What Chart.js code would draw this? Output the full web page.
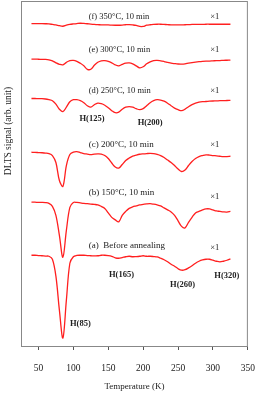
<!DOCTYPE html>
<html>
<head>
<meta charset="utf-8">
<script src="https://cdn.jsdelivr.net/npm/chart.js@4"></script>
<style>
  html, body { margin: 0; padding: 0; background: #fff; }
  #wrap { width: 268px; height: 393px; }
</style>
</head>
<body>
<div id="wrap"><canvas id="chart1"></canvas></div>
<script>
// temperature grid (K)
const temps = [40,45,50,55,60,65,70,75,80,85,90,95,100,105,110,115,120,125,130,135,140,145,150,155,160,165,170,175,180,185,
  190,195,200,205,210,215,220,225,230,235,240,245,250,255,260,265,270,275,280,285,290,295,300,305,310,315,320,325];

// DLTS signals, arb. unit, each relative to its own baseline
const sigA = [0.5,0.5,0.2,0,-0.3,-0.5,-3.5,-20.5,-54.5,-82.5,-44.5,-7.5,-1,0.3,0.5,0.5,0.2,0,-0.2,0,0.5,0.5,0.2,-0.5,-2,-2.5,-1.8,-1,-0.5,-1,
  -0.8,-0.5,0,-0.5,-0.5,-0.8,-1.2,-2.5,-4,-6,-8.5,-10.5,-13,-14.5,-14,-12.2,-10,-7.5,-5.5,-4.2,-3.5,-3.5,-4.5,-5.5,-6.2,-5.5,-4.5,-3.2];
const sigB = [0.3,0.2,0,0,-0.2,-1,-4,-13,-33,-55,-28,-5,0,0,-0.5,-1,-1.3,-1.7,-2,-2.5,-4,-6,-10.5,-15,-17.5,-19.5,-13,-9,-6,-4.5,
  -3.5,-2.5,-2,-1.5,-1.3,-1.8,-2.5,-3.5,-5.5,-7.5,-9.5,-13,-18.5,-24,-25.5,-20,-15,-10.5,-9,-7.5,-6.5,-6.5,-7.5,-8.5,-9,-9.5,-9.7,-9];
const sigC = [0.3,0.2,0,-0.2,-0.5,-1,-3,-10,-28,-34,-13,-2,0.5,1,0,-1,-1.5,-2,-1.5,-1.3,-1.5,-3,-6,-10.5,-14.5,-15.5,-12,-8,-5.5,-3.5,
  -2.5,-1.7,-1.3,-1,-0.8,-1,-1.8,-3,-5,-7.5,-10,-13,-16.5,-19,-17.5,-13,-9,-6,-4,-3,-2.3,-2.5,-3,-3.3,-3.7,-4,-4,-3.7];
const sigD = [0.7,0.7,0.5,0.5,0.2,-0.5,-1.5,-5,-10,-12.5,-8,-2.5,-0.5,-0.5,-1.5,-3.5,-6.5,-8,-5.5,-4,-4.5,-6,-8.5,-11.5,-13.5,-13,-10,-8,-7.5,-8,
  -9.5,-10.5,-9.5,-6.5,-3.5,-1.5,-0.5,-0.8,-2,-4,-6.5,-9,-10.5,-11.5,-10,-7.5,-5.5,-4,-3,-2.5,-2.3,-2,-1.8,-1.7,-1.5,-1.5,-1.3,-1.2];
const sigE = [0.2,0.2,0.1,0,-0.1,-0.5,-1.5,-3.5,-5,-5.5,-3,-1.3,-1,-2,-4,-6.5,-10,-10,-6,-3,-1.5,-1.3,-2,-3.5,-5.5,-6.5,-5,-3.8,-3.5,-4.5,
  -6.5,-8.5,-7.5,-4.5,-2.5,-1.2,-1,-1.5,-2.2,-3,-3.8,-4.3,-4.7,-4.8,-4.5,-3.8,-3.2,-2.7,-2.3,-2,-1.8,-1.7,-1.5,-1.3,-1.2,-1,-0.9,-0.8];
const sigF = [0.3,0.3,0.3,0.3,0.2,0,-0.5,-1,-1.8,-2.3,-1.3,-0.5,0,0.4,0.7,0.5,0.2,-0.2,-0.5,-0.7,-1,-1,-1,-1.2,-1.3,-1.3,-1.1,-0.8,-0.7,-1,
  -1.5,-2.5,-2.5,-1.3,-0.8,-0.5,-0.3,-0.3,-0.5,-0.7,-1,-1,-1,-1,-0.8,-0.7,-0.5,-0.5,-0.5,-0.5,-0.3,-0.3,-0.3,-0.3,-0.3,-0.3,-0.3,-0.3];

// vertical stacking offset of each curve (a..f)
const offsets = [90.5, 144, 194, 247.5, 287.5, 323];
const signals = [sigA, sigB, sigC, sigD, sigE, sigF];

const xTicks = [50, 100, 150, 200, 250, 300, 350];

// curve captions: text, T, y
const captions = [
  ["(a)  Before annealing", 122, 101],
  ["(b) 150\u00B0C, 10 min", 122, 154.3],
  ["(c) 200\u00B0C, 10 min", 122, 202],
  ["(d) 250\u00B0C, 10 min", 122, 256],
  ["(e) 300\u00B0C, 10 min", 122, 296.7],
  ["(f) 350\u00B0C, 10 min", 122, 330]
];
const captionSize = [9, 9, 9, 8.5, 8.5, 8.5];
const scaleMarks = [["\u00D71", 296, 98.7], ["\u00D71", 296, 149.3], ["\u00D71", 296, 202], ["\u00D71", 296, 256], ["\u00D71", 296, 297], ["\u00D71", 296, 330]];
const peakLabels = [
  ["H(85)", 110, 22.7],
  ["H(125)", 126.7, 228],
  ["H(165)", 169, 71],
  ["H(200)", 210, 224.3],
  ["H(260)", 256.5, 61.7],
  ["H(320)", 319.8, 70]
];

const SERIF = '"Liberation Serif", "DejaVu Serif", serif';

const datasets = signals.map(function (sig, k) {
  return {
    data: temps.map(function (t, i) { return { x: t, y: offsets[k] + sig[i] }; }),
    borderColor: '#ff1f1f',
    borderWidth: 1.3,
    pointRadius: 0,
    fill: false,
    tension: 0.35
  };
});

const textPlugin = {
  id: 'texts',
  afterDraw(chart) {
    const ctx = chart.ctx, xs = chart.scales.x, ys = chart.scales.y, a = chart.chartArea;
    ctx.save();
    // frame
    ctx.strokeStyle = '#888';
    ctx.lineWidth = 1;
    ctx.strokeRect(a.left + 0.5, a.top + 0.5, a.right - a.left - 1, a.bottom - a.top);
    ctx.fillStyle = '#222';
    ctx.textBaseline = 'middle';
    ctx.textAlign = 'left';
    captions.forEach(function (c, i) {
      ctx.font = captionSize[i] + 'px ' + SERIF;
      ctx.fillText(c[0], xs.getPixelForValue(c[1]), ys.getPixelForValue(c[2]));
    });
    ctx.font = '8.5px ' + SERIF;
    scaleMarks.forEach(function (c) {
      ctx.fillText(c[0], xs.getPixelForValue(c[1]), ys.getPixelForValue(c[2]));
    });
    ctx.textAlign = 'center';
    ctx.font = 'bold 8.5px ' + SERIF;
    peakLabels.forEach(function (c) {
      ctx.fillText(c[0], xs.getPixelForValue(c[1]), ys.getPixelForValue(c[2]));
    });
    // y title
    ctx.translate(8, 131);
    ctx.rotate(-Math.PI / 2);
    ctx.font = '9.5px ' + SERIF;
    ctx.fillStyle = '#222';
    ctx.fillText('DLTS signal (arb. unit)', 0, 0);
    ctx.restore();
  }
};

new Chart(document.getElementById('chart1'), {
  type: 'line',
  data: { datasets: datasets },
  options: {
    responsive: true,
    maintainAspectRatio: false,
    animation: false,
    layout: { padding: { left: 21, right: 6, top: 1, bottom: 0 } },
    plugins: { legend: { display: false }, tooltip: { enabled: false } },
    scales: {
      x: {
        type: 'linear',
        min: 25,
        max: 350,
        afterBuildTicks(scale) { scale.ticks = xTicks.map(function (v) { return { value: v }; }); },
        afterFit(scale) { scale.height = 47; },
        grid: { drawOnChartArea: false, drawTicks: true, tickLength: 4, color: '#555' },
        border: { display: true, color: '#888' },
        ticks: { color: '#222', font: { family: SERIF, size: 9.5 }, padding: 13, maxRotation: 0 },
        title: { display: true, text: 'Temperature (K)', color: '#222', font: { family: SERIF, size: 9 }, padding: { top: 0, bottom: 1 } }
      },
      y: {
        display: false,
        min: 0,
        max: 346
      }
    }
  },
  plugins: [textPlugin]
});
</script>
</body>
</html>
